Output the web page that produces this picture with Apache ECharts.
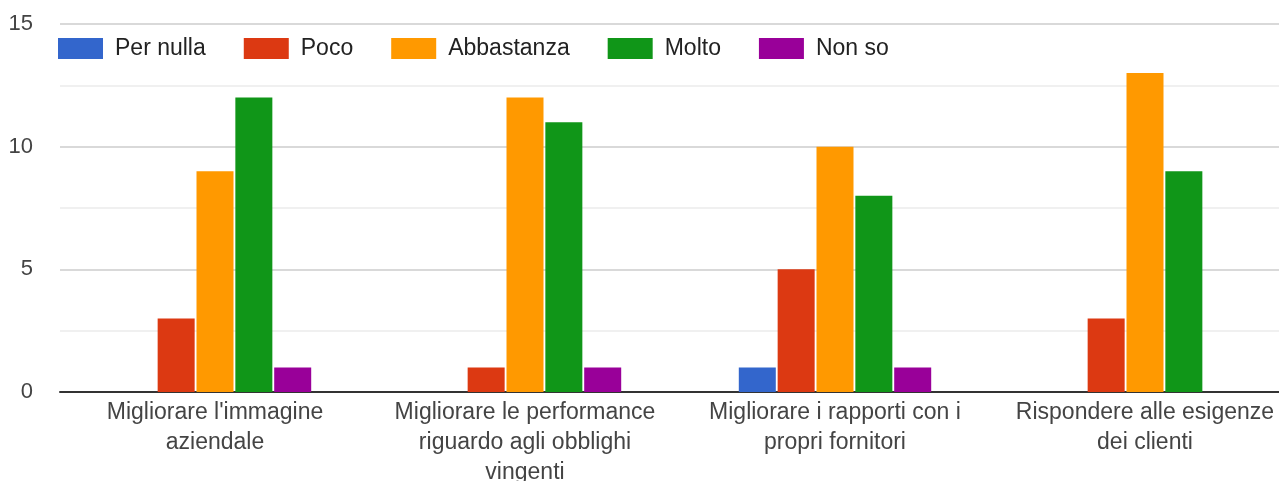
<!DOCTYPE html>
<html>
<head>
<meta charset="utf-8">
<script src="https://cdn.jsdelivr.net/npm/echarts@6/dist/echarts.min.js"></script>
<style>
html,body{margin:0;padding:0;background:#fff;}
#chart{width:1279px;height:481px;}
</style>
</head>
<body>
<div id="chart"></div>
<script>
const categories = [
  "Migliorare l'immagine\naziendale",
  "Migliorare le performance\nriguardo agli obblighi\nvingenti",
  "Migliorare i rapporti con i\npropri fornitori",
  "Rispondere alle esigenze\ndei clienti"
];
const seriesNames = ["Per nulla", "Poco", "Abbastanza", "Molto", "Non so"];
const perNulla   = [0, 0, 1, 0];
const poco       = [3, 1, 5, 3];
const abbastanza = [9, 12, 10, 13];
const molto      = [12, 11, 8, 9];
const nonSo      = [1, 1, 1, 0];
const yTicks = [0, 5, 10, 15];

const colors = ["#3366cc", "#dc3912", "#ff9900", "#109618", "#990099"];
const values = [perNulla, poco, abbastanza, molto, nonSo];

const chart = echarts.init(document.getElementById('chart'), null, {renderer: 'canvas'});
chart.setOption({
  animation: false,
  color: colors,
  textStyle: {fontFamily: 'Arial, "Liberation Sans", sans-serif'},
  legend: {
    left: 53,
    top: 32,
    itemWidth: 45,
    itemHeight: 21,
    itemGap: 38,
    icon: 'rect',
    textStyle: {fontSize: 23, color: '#222', padding: [0, 0, 0, 7]},
    data: seriesNames
  },
  grid: {left: 60, right: -21, top: 24, bottom: 89, outerBoundsMode: 'none', containLabel: false},
  xAxis: {
    type: 'category',
    data: categories,
    axisLine: {lineStyle: {color: '#333', width: 2}},
    axisTick: {show: false},
    axisLabel: {fontSize: 23, color: '#444', lineHeight: 30, margin: 6, interval: 0}
  },
  yAxis: {
    type: 'value',
    min: yTicks[0],
    max: yTicks[yTicks.length - 1],
    interval: 5,
    axisLine: {show: false},
    axisTick: {show: false},
    axisLabel: {fontSize: 22, color: '#444', margin: 27},
    splitLine: {lineStyle: {color: '#cccccc', width: 1.5}},
    minorTick: {show: false, splitNumber: 2},
    minorSplitLine: {show: true, lineStyle: {color: '#ebebeb', width: 1.5}}
  },
  series: seriesNames.map((name, i) => ({
    name: name,
    type: 'bar',
    data: values[i],
    barWidth: 37,
    barGap: '5%'
  }))
});
</script>
</body>
</html>
